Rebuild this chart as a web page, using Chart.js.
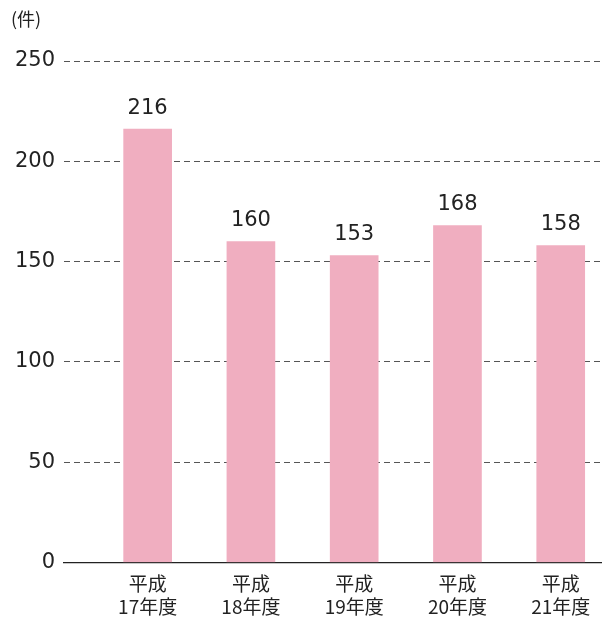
<!DOCTYPE html>
<html>
<head>
<meta charset="utf-8">
<script src="https://cdn.jsdelivr.net/npm/chart.js@4/dist/chart.umd.min.js"></script>
<style>
  body { margin: 0; background: #fff; }
  #wrap { width: 603px; height: 622px; position: relative; }
</style>
</head>
<body>
<div id="wrap"><canvas id="Chart-cases"></canvas></div>
<script>
// data
var eras = ['平成', '平成', '平成', '平成', '平成'];
var years = ['17年度', '18年度', '19年度', '20年度', '21年度'];
var cases = [216, 160, 153, 168, 158];
var yTicks = [0, 50, 100, 150, 200, 250];
var unitLabel = '(件)';

var numFont = "'DejaVu Sans', 'Noto Sans CJK JP', sans-serif";
var jpFont = "'Noto Sans CJK JP', 'DejaVu Sans', sans-serif";

function chart_cases() {
  var ctx = document.getElementById('Chart-cases').getContext('2d');

  // value labels above bars + unit text
  var valueLabels = {
    id: 'valueLabels',
    afterDatasetsDraw: function(chart) {
      var c = chart.ctx;
      var meta = chart.getDatasetMeta(0);
      c.save();
      c.fillStyle = '#222';
      c.font = '21px ' + numFont;
      c.textAlign = 'center';
      c.textBaseline = 'middle';
      meta.data.forEach(function(bar, i) {
        c.fillText(String(cases[i]), bar.x, bar.y - 21);
      });
      c.font = '18px ' + jpFont;
      c.textAlign = 'left';
      c.fillText(unitLabel, 11, 19);
      c.restore();
    }
  };

  new Chart(ctx, {
    type: 'bar',
    data: {
      datasets: [{
        data: cases.map(function(v, i) { return { x: i + 1, y: v }; }),
        backgroundColor: '#f0aec0',
        barThickness: 48,
        borderWidth: 0
      }]
    },
    options: {
      responsive: true,
      maintainAspectRatio: false,
      animation: false,
      layout: {
        padding: { top: 61, right: 2, left: 0, bottom: 0 }
      },
      plugins: {
        legend: { display: false },
        tooltip: { enabled: false }
      },
      scales: {
        x: {
          type: 'linear',
          offset: false,
          min: 0.19,
          max: 5.39,
          afterBuildTicks: function(scale) {
            scale.ticks = cases.map(function(v, i) { return { value: i + 1 }; });
          },
          afterFit: function(scale) { scale.height = 59.5; },
          ticks: {
            autoSkip: false,
            maxRotation: 0,
            padding: 10,
            color: '#222',
            font: { family: jpFont, size: 19, lineHeight: 1.22 },
            callback: function(value) {
              var i = Math.round(value) - 1;
              return [eras[i], years[i]];
            }
          },
          grid: { display: false, drawTicks: false },
          border: { display: true, color: '#222', width: 1.3 }
        },
        y: {
          min: 0,
          max: 250,
          afterBuildTicks: function(scale) {
            scale.ticks = yTicks.map(function(v) { return { value: v }; });
          },
          afterFit: function(scale) { scale.width = 64; },
          ticks: {
            padding: 9,
            color: '#222',
            font: { family: numFont, size: 21 }
          },
          grid: {
            drawTicks: false,
            lineWidth: 1,
            color: function(c) {
              return c.tick && c.tick.value === 0 ? 'rgba(0,0,0,0)' : '#555';
            }
          },
          border: { display: false, dash: [6, 4] }
        }
      }
    },
    plugins: [valueLabels]
  });
}
chart_cases();
</script>
</body>
</html>
